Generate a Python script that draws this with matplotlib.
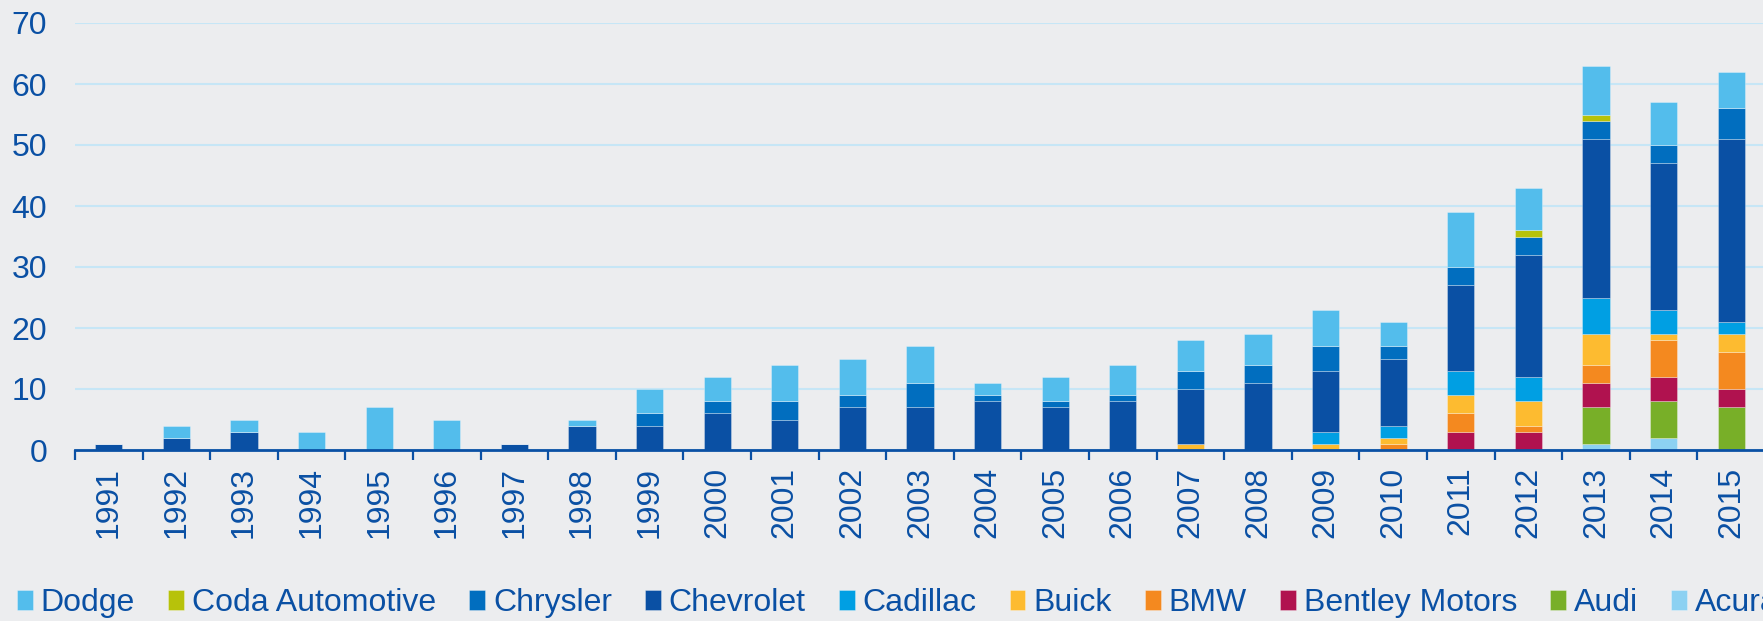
import matplotlib
matplotlib.use("Agg")
import matplotlib.pyplot as plt
import numpy as np

years = [str(y) for y in range(1991, 2016)]
brands = ["Dodge", "Coda Automotive", "Chrysler", "Chevrolet", "Cadillac",
          "Buick", "BMW", "Bentley Motors", "Audi", "Acura"]
colors = ["#53BDEC", "#B7C20A", "#016EBF", "#0A50A4", "#009FE3",
          "#FDBB30", "#F4891F", "#B0124F", "#78AF28", "#8CD1F2"]

acura     = [0,0,0,0,0,0,0,0,0,0,0,0,0,0,0,0,0,0,0,0,0,0,1,2,0]
audi      = [0,0,0,0,0,0,0,0,0,0,0,0,0,0,0,0,0,0,0,0,0,0,6,6,7]
bentley   = [0,0,0,0,0,0,0,0,0,0,0,0,0,0,0,0,0,0,0,0,3,3,4,4,3]
bmw       = [0,0,0,0,0,0,0,0,0,0,0,0,0,0,0,0,0,0,0,1,3,1,3,6,6]
buick     = [0,0,0,0,0,0,0,0,0,0,0,0,0,0,0,0,1,0,1,1,3,4,5,1,3]
cadillac  = [0,0,0,0,0,0,0,0,0,0,0,0,0,0,0,0,0,0,2,2,4,4,6,4,2]
chevrolet = [1,2,3,0,0,0,1,4,4,6,5,7,7,8,7,8,9,11,10,11,14,20,26,24,30]
chrysler  = [0,0,0,0,0,0,0,0,2,2,3,2,4,1,1,1,3,3,4,2,3,3,3,3,5]
coda      = [0,0,0,0,0,0,0,0,0,0,0,0,0,0,0,0,0,0,0,0,0,1,1,0,0]
dodge     = [0,2,2,3,7,5,0,1,4,4,6,6,6,2,4,5,5,5,6,4,9,7,8,7,6]

series = {"Dodge": dodge, "Coda Automotive": coda, "Chrysler": chrysler,
          "Chevrolet": chevrolet, "Cadillac": cadillac, "Buick": buick,
          "BMW": bmw, "Bentley Motors": bentley, "Audi": audi, "Acura": acura}

plt.rcParams['font.family'] = ['Liberation Sans', 'DejaVu Sans']
bg = "#ECEDEF"
txt = "#0A50A4"

fig = plt.figure(figsize=(17.63, 6.21), dpi=100, facecolor=bg)
ax = fig.add_axes([75/1763, 171/621, 1690/1763, 427/621], facecolor=bg)

x = np.arange(len(years))
stack_order = ["Acura", "Audi", "Bentley Motors", "BMW", "Buick", "Cadillac",
               "Chevrolet", "Chrysler", "Coda Automotive", "Dodge"]
bottom = np.zeros(len(years))
handles = {}
for b in stack_order:
    vals = np.array(series[b], dtype=float)
    c = colors[brands.index(b)]
    h = ax.bar(x, vals, width=0.4, bottom=bottom, color=c,
               edgecolor=(1, 1, 1, 0.35), linewidth=0.6, zorder=3)
    handles[b] = h
    bottom += vals

ax.set_xlim(-0.5, len(years) - 0.5)
ax.set_ylim(0, 70)
ax.set_yticks(range(0, 71, 10))
ax.yaxis.grid(True, color="#C6E6F6", linewidth=1.5, zorder=0)
ax.set_axisbelow(True)
for s in ["top", "right", "left"]:
    ax.spines[s].set_visible(False)
ax.spines["bottom"].set_color(txt)
ax.spines["bottom"].set_linewidth(2.0)
ax.spines["bottom"].set_zorder(5)

ax.tick_params(axis="y", length=0, pad=20, labelsize=23, labelcolor=txt)
ax.set_xticks(x)
ax.set_xticklabels(years, rotation=90, fontsize=23, color=txt)
ax.tick_params(axis="x", which="major", length=0, pad=12)
ax.set_xticks(np.arange(-0.5, len(years), 1.0), minor=True)
ax.tick_params(axis="x", which="minor", length=7, width=1.6, color=txt, direction="out")

leg = fig.legend([handles[b] for b in brands], brands, loc="lower left",
                 bbox_to_anchor=(0.0023, -0.016), ncol=10, frameon=False,
                 fontsize=23, handlelength=0.5, handleheight=0.6,
                 handletextpad=0.25, columnspacing=1.03, labelcolor=txt,
                 borderaxespad=0.0)

fig.savefig("out.png", dpi=100, facecolor=bg)
